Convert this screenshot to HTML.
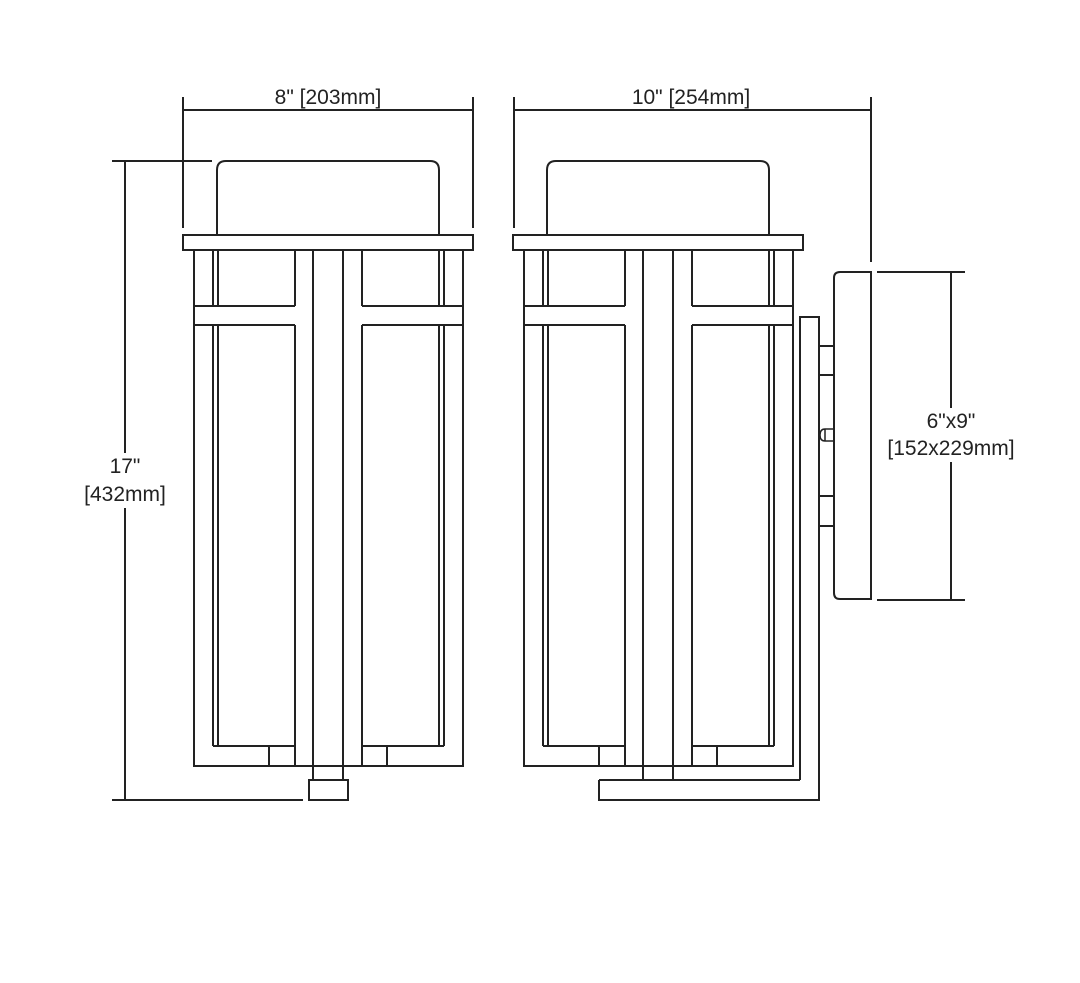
<!DOCTYPE html>
<html><head><meta charset="utf-8"><style>
html,body{margin:0;padding:0;background:#fff;}
svg{display:block;}
text{font-family:"Liberation Sans",Arial,sans-serif;font-size:21px;fill:#222;text-anchor:middle;}
</style></head><body>
<svg width="1080" height="983" viewBox="0 0 1080 983" xmlns="http://www.w3.org/2000/svg">
<g fill="none" stroke="#222" stroke-width="2">
<line x1="183" y1="110" x2="473" y2="110"/>
<line x1="183" y1="97" x2="183" y2="228"/>
<line x1="473" y1="97" x2="473" y2="228"/>
<line x1="514" y1="110" x2="871" y2="110"/>
<line x1="514" y1="97" x2="514" y2="228"/>
<line x1="871" y1="97" x2="871" y2="262"/>
<line x1="125" y1="161" x2="125" y2="453"/>
<line x1="125" y1="508" x2="125" y2="800"/>
<line x1="112" y1="161" x2="212" y2="161"/>
<line x1="112" y1="800" x2="303" y2="800"/>
<line x1="951" y1="272" x2="951" y2="408"/>
<line x1="951" y1="462" x2="951" y2="600"/>
<line x1="877" y1="272" x2="965" y2="272"/>
<line x1="877" y1="600" x2="965" y2="600"/>
</g>
<g id="fx" fill="none" stroke="#222" stroke-width="2">
<path d="M217 235 V170 Q217 161 226 161 H430 Q439 161 439 170 V235"/>
<rect x="183" y="235" width="290" height="15"/>
<rect x="194" y="250" width="269" height="516"/>
<line x1="194" y1="306" x2="295" y2="306"/>
<line x1="194" y1="325" x2="295" y2="325"/>
<line x1="362" y1="306" x2="463" y2="306"/>
<line x1="362" y1="325" x2="463" y2="325"/>
<line x1="213" y1="250" x2="213" y2="306"/>
<line x1="218" y1="250" x2="218" y2="306"/>
<line x1="295" y1="250" x2="295" y2="306"/>
<line x1="213" y1="325" x2="213" y2="746"/>
<line x1="218" y1="325" x2="218" y2="746"/>
<line x1="295" y1="325" x2="295" y2="766"/>
<line x1="213" y1="746" x2="295" y2="746"/>
<line x1="269" y1="746" x2="269" y2="766"/>
<line x1="444" y1="250" x2="444" y2="306"/>
<line x1="439" y1="250" x2="439" y2="306"/>
<line x1="362" y1="250" x2="362" y2="306"/>
<line x1="444" y1="325" x2="444" y2="746"/>
<line x1="439" y1="325" x2="439" y2="746"/>
<line x1="362" y1="325" x2="362" y2="766"/>
<line x1="362" y1="746" x2="444" y2="746"/>
<line x1="387" y1="746" x2="387" y2="766"/>
<line x1="313" y1="250" x2="313" y2="780"/>
<line x1="343" y1="250" x2="343" y2="780"/>
</g>
<g fill="none" stroke="#222" stroke-width="2">
<rect x="309" y="780" width="39" height="20"/>
</g>
<use href="#fx" x="330" y="0"/>
<g fill="none" stroke="#222" stroke-width="2">
<line x1="599" y1="780" x2="800" y2="780"/>
<path d="M800 780 V317 H819 V800 H599 V780"/>
<path d="M871 272 H840 Q834 272 834 278 V593 Q834 599 840 599 H871 Z"/>
<line x1="819" y1="346" x2="834" y2="346"/>
<line x1="819" y1="375" x2="834" y2="375"/>
<line x1="819" y1="496" x2="834" y2="496"/>
<line x1="819" y1="526" x2="834" y2="526"/>
<path d="M834 429 H825 Q820 429 820 435 Q820 441 825 441 H834 M825 429 V441" stroke-width="1.5"/>
</g>
<text x="328" y="104">8" [203mm]</text>
<text x="691" y="104">10" [254mm]</text>
<text x="125" y="473">17"</text>
<text x="125" y="501">[432mm]</text>
<text x="951" y="428">6"x9"</text>
<text x="951" y="455">[152x229mm]</text>
</svg>
</body></html>
